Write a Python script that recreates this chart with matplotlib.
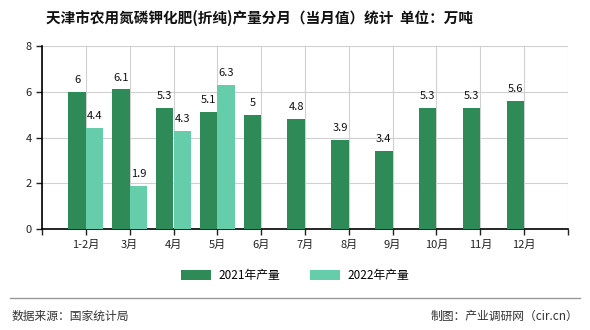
import matplotlib
matplotlib.use("Agg")
import matplotlib.pyplot as plt
import numpy as np

plt.rcParams['font.family'] = ['Noto Sans CJK SC', 'DejaVu Sans']

categories = ["1-2月", "3月", "4月", "5月", "6月", "7月", "8月", "9月", "10月", "11月", "12月"]
values_2021 = [6, 6.1, 5.3, 5.1, 5, 4.8, 3.9, 3.4, 5.3, 5.3, 5.6]
values_2022 = [4.4, 1.9, 4.3, 6.3]
labels_2021 = ["6", "6.1", "5.3", "5.1", "5", "4.8", "3.9", "3.4", "5.3", "5.3", "5.6"]
labels_2022 = ["4.4", "1.9", "4.3", "6.3"]
yticks = [0, 2, 4, 6, 8]

c2021 = "#2e8b57"
c2022 = "#66cdaa"

fig = plt.figure(figsize=(5.9, 3.3), dpi=100)
ax = fig.add_axes([42 / 590, 1 - 229 / 330, (568 - 42) / 590, (229 - 46) / 330])

x = np.arange(len(categories))
w = 0.4
x22 = x[:len(values_2022)]
b1 = ax.bar(x - w / 2, values_2021, w, color=c2021, label="2021年产量", zorder=3)
b2 = ax.bar(x22 + w / 2, values_2022, w, color=c2022, label="2022年产量", zorder=3)

for xi, v, t in zip(x, values_2021, labels_2021):
    ax.text(xi - w / 2, v + 0.3, t, ha="center", va="bottom", fontsize=8, color="#111111")
for xi, v, t in zip(x22, values_2022, labels_2022):
    ax.text(xi + w / 2, v + 0.3, t, ha="center", va="bottom", fontsize=8, color="#111111")

n = len(categories)
ax.set_xlim(-1, n)
ax.set_ylim(0, 8)
ax.set_yticks(yticks)
ax.set_xticks([-1] + list(x) + [n])
ax.set_xticklabels([""] + categories + [""], fontsize=8)
ax.tick_params(axis="y", labelsize=8, length=4, width=1, colors="#222222")
ax.tick_params(axis="x", length=4, width=1, colors="#222222")
ax.grid(True, color="#d0d0d0", linewidth=0.8, zorder=0)
ax.set_axisbelow(True)
for s in ["top", "right"]:
    ax.spines[s].set_visible(False)
for s in ["left", "bottom"]:
    ax.spines[s].set_color("#000000")
    ax.spines[s].set_linewidth(1.2)

fig.legend(handles=[b1, b2], loc="center", bbox_to_anchor=(0.5, 0.165), ncol=2, frameon=False,
           fontsize=8.5, handlelength=2.6, handleheight=0.9, columnspacing=2.5, handletextpad=0.6)

fig.text(260 / 590, 1 - 18 / 330, "天津市农用氮磷钾化肥(折纯)产量分月（当月值）统计  单位：万吨",
         ha="center", va="center", fontsize=10.5, fontweight="bold", color="#111111")

fig.add_artist(plt.Line2D([10 / 590, 580 / 590], [1 - 298 / 330, 1 - 298 / 330], color="#999999", linewidth=1))
fig.text(12 / 590, 1 - 316 / 330, "数据来源：国家统计局", ha="left", va="center", fontsize=8.5, color="#333333")
fig.text(578 / 590, 1 - 316 / 330, "制图：产业调研网（cir.cn）", ha="right", va="center", fontsize=8.5, color="#333333")

fig.savefig("out.png", dpi=100)
